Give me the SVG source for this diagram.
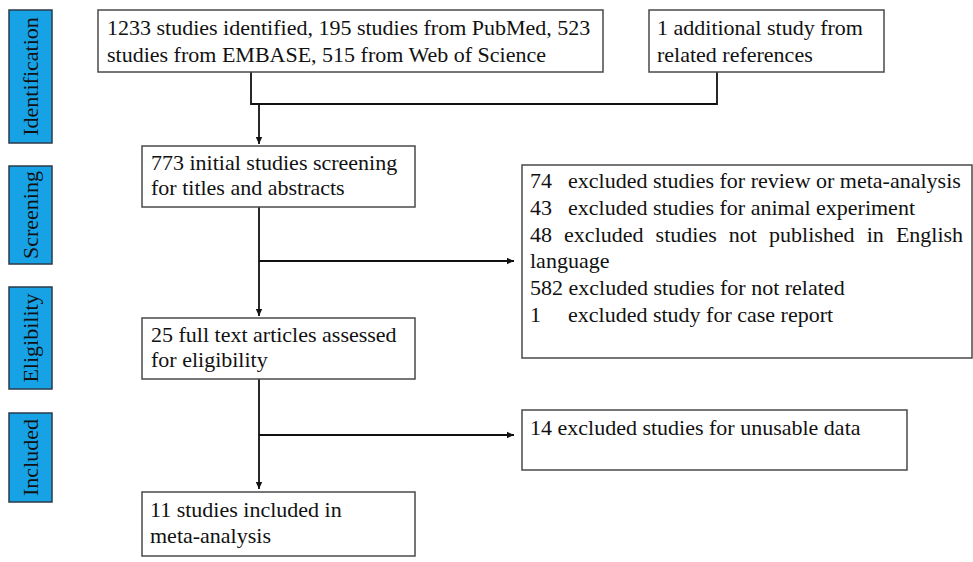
<svg xmlns="http://www.w3.org/2000/svg" width="973" height="562" viewBox="0 0 973 562">
<style>
  .box { fill: #ffffff; stroke: #4a4a4a; stroke-width: 1.5; }
  .stage { fill: #17a2e6; stroke: #2a3a4a; stroke-width: 1.5; }
  .t { font-family: "Liberation Serif", "Times New Roman", serif; font-size: 22px; fill: #111; }
  .conn { fill: none; stroke: #111; stroke-width: 1.8; }
</style>
<defs>
  <marker id="arr" markerWidth="8" markerHeight="8" refX="7" refY="4" orient="auto" markerUnits="userSpaceOnUse">
    <path d="M0,0.8 L7,4 L0,7.2 Z" fill="#111"/>
  </marker>
</defs>
<rect width="973" height="562" fill="#ffffff"/>

<g id="stage-identification">
  <rect class="stage" x="9" y="10" width="43" height="133"/>
  <text class="t" transform="translate(38,76.5) rotate(-90)" text-anchor="middle">Identification</text>
</g>
<g id="stage-screening">
  <rect class="stage" x="9" y="166" width="43" height="98"/>
  <text class="t" transform="translate(38,215) rotate(-90)" text-anchor="middle">Screening</text>
</g>
<g id="stage-eligibility">
  <rect class="stage" x="9" y="287" width="43" height="102"/>
  <text class="t" transform="translate(38,338) rotate(-90)" text-anchor="middle">Eligibility</text>
</g>
<g id="stage-included">
  <rect class="stage" x="9" y="413" width="43" height="89"/>
  <text class="t" transform="translate(38,457.5) rotate(-90)" text-anchor="middle">Included</text>
</g>

<g id="connectors">
  <path class="conn" d="M251,72 V104 H717 V72"/>
  <path class="conn" d="M259,104 V144" marker-end="url(#arr)"/>
  <path class="conn" d="M259,207 V316" marker-end="url(#arr)"/>
  <path class="conn" d="M259,261 H514" marker-end="url(#arr)"/>
  <path class="conn" d="M259,379 V489" marker-end="url(#arr)"/>
  <path class="conn" d="M259,435 H514" marker-end="url(#arr)"/>
</g>

<g id="node-identified">
  <rect class="box" x="98" y="10" width="505" height="62"/>
  <text class="t" x="107" y="35">1233 studies identified, 195 studies from PubMed, 523</text>
  <text class="t" x="107" y="62">studies from EMBASE, 515 from Web of Science</text>
</g>
<g id="node-additional">
  <rect class="box" x="649" y="10" width="235" height="62"/>
  <text class="t" x="657" y="35">1 additional study from</text>
  <text class="t" x="657" y="62">related references</text>
</g>
<g id="node-screening">
  <rect class="box" x="142" y="146" width="273" height="61"/>
  <text class="t" x="151" y="170">773 initial studies screening</text>
  <text class="t" x="151" y="195">for titles and abstracts</text>
</g>
<g id="node-excluded-screening">
  <rect class="box" x="522" y="165" width="450" height="193"/>
  <text class="t" y="188"><tspan x="530">74</tspan><tspan x="568">excluded studies for review or meta-analysis</tspan></text>
  <text class="t" y="215"><tspan x="530">43</tspan><tspan x="568">excluded studies for animal experiment</tspan></text>
  <text class="t" x="530" y="242" word-spacing="6.6">48 excluded studies not published in English</text>
  <text class="t" x="530" y="268">language</text>
  <text class="t" x="530" y="295">582 excluded studies for not related</text>
  <text class="t" y="322"><tspan x="530">1</tspan><tspan x="568">excluded study for case report</tspan></text>
</g>
<g id="node-eligibility">
  <rect class="box" x="142" y="318" width="273" height="61"/>
  <text class="t" x="151" y="342">25 full text articles assessed</text>
  <text class="t" x="151" y="367">for eligibility</text>
</g>
<g id="node-excluded-eligibility">
  <rect class="box" x="522" y="410" width="385" height="60"/>
  <text class="t" x="530" y="435">14 excluded studies for unusable data</text>
</g>
<g id="node-included">
  <rect class="box" x="142" y="492" width="273" height="64"/>
  <text class="t" x="150" y="517">11 studies included in</text>
  <text class="t" x="150" y="543">meta-analysis</text>
</g>
</svg>
